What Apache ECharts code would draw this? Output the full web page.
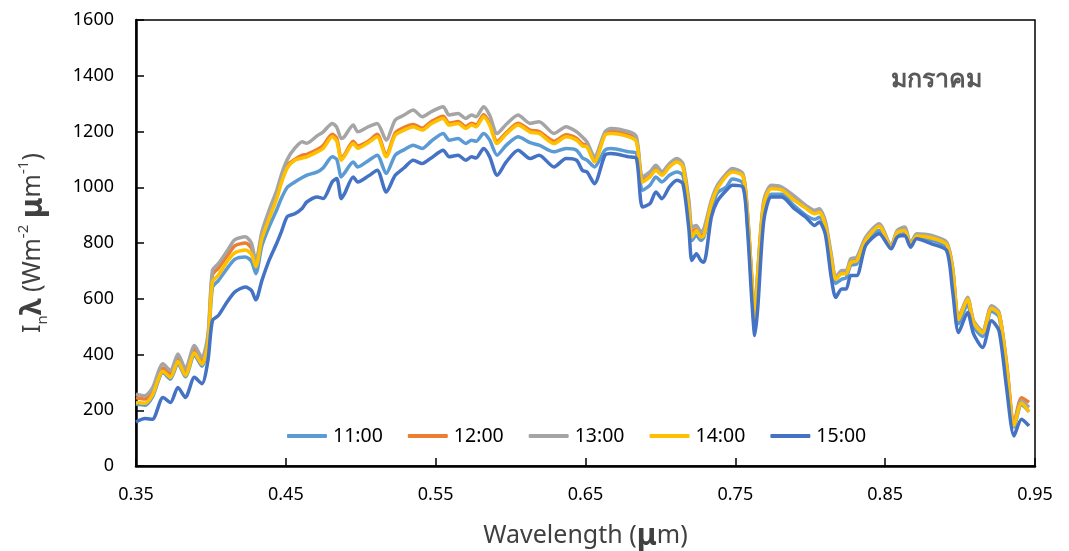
<!DOCTYPE html>
<html><head><meta charset="utf-8">
<script src="https://cdn.jsdelivr.net/npm/echarts@6/dist/echarts.min.js"></script>
<style>html,body{margin:0;padding:0;background:#fff}#c{width:1069px;height:551px}</style>
</head><body><div id="c"></div>
<script>
const wavelengths = [0.350,0.356,0.361,0.368,0.373,0.378,0.383,0.389,0.394,0.398,0.401,0.405,0.411,0.416,0.423,0.427,0.430,0.434,0.439,0.444,0.447,0.451,0.456,0.461,0.464,0.471,0.475,0.481,0.484,0.487,0.489,0.495,0.498,0.505,0.511,0.517,0.523,0.529,0.535,0.541,0.547,0.555,0.559,0.565,0.570,0.574,0.577,0.582,0.586,0.591,0.597,0.605,0.613,0.619,0.629,0.637,0.644,0.648,0.651,0.656,0.663,0.667,0.679,0.684,0.688,0.693,0.697,0.701,0.706,0.711,0.715,0.719,0.721,0.724,0.727,0.729,0.734,0.738,0.744,0.748,0.755,0.758,0.761,0.763,0.765,0.769,0.774,0.781,0.789,0.797,0.803,0.806,0.810,0.814,0.817,0.821,0.824,0.827,0.831,0.837,0.846,0.854,0.858,0.863,0.867,0.871,0.881,0.891,0.895,0.899,0.905,0.909,0.915,0.921,0.926,0.931,0.936,0.941,0.946];
const s1300 = [258,252,280,367,342,402,349,432,389,470,701,726,773,812,822,800,735,840,920,990,1045,1100,1140,1163,1158,1185,1199,1229,1215,1175,1181,1223,1199,1217,1229,1169,1241,1259,1277,1253,1271,1289,1259,1265,1247,1259,1253,1289,1259,1193,1225,1259,1229,1235,1193,1217,1199,1180,1163,1109,1199,1211,1199,1181,1037,1055,1079,1055,1085,1103,1085,953,857,863,839,851,953,1007,1049,1067,1049,917,677,533,701,953,1007,1001,970,935,917,923,880,760,677,701,701,743,749,821,869,791,845,857,797,833,827,803,713,533,605,521,485,575,551,366,150,234,210];
const s1200 = [245,240,268,352,330,388,338,418,378,455,685,710,755,790,800,782,725,830,905,975,1030,1080,1100,1115,1118,1135,1150,1190,1175,1105,1115,1165,1148,1165,1190,1115,1195,1215,1225,1212,1235,1255,1230,1236,1218,1230,1224,1260,1230,1165,1195,1230,1205,1200,1165,1188,1176,1155,1150,1095,1192,1200,1188,1170,1025,1042,1067,1048,1078,1096,1078,930,840,850,828,835,945,1000,1045,1060,1045,910,670,525,690,945,1000,995,962,928,910,915,870,750,675,695,695,735,740,815,862,788,840,850,795,828,822,800,710,530,600,518,480,570,548,370,155,245,228];
const s1400 = [228,225,255,340,318,375,325,405,365,440,660,685,735,765,775,760,715,815,890,960,1015,1070,1097,1105,1109,1127,1140,1181,1165,1097,1110,1157,1140,1160,1181,1109,1187,1205,1217,1205,1228,1247,1223,1229,1211,1223,1217,1253,1223,1157,1190,1223,1198,1193,1157,1181,1169,1148,1145,1091,1187,1193,1181,1163,1019,1037,1061,1043,1073,1091,1073,920,821,845,821,827,941,995,1040,1055,1040,905,665,520,690,940,995,990,955,925,905,910,865,745,670,690,690,730,735,810,860,785,838,845,792,825,818,795,705,525,598,515,478,565,545,360,145,225,194];
const s1100 = [222,218,248,335,312,368,320,398,358,430,640,665,710,742,750,735,690,790,860,920,960,1000,1019,1035,1043,1055,1070,1109,1100,1037,1050,1091,1073,1095,1115,1049,1115,1135,1151,1139,1165,1193,1169,1175,1157,1169,1165,1193,1170,1115,1150,1181,1160,1151,1127,1139,1133,1105,1097,1073,1133,1139,1127,1121,989,1007,1037,1019,1043,1055,1043,900,809,827,809,821,917,980,1001,1030,1015,880,640,490,640,910,975,975,935,900,885,892,860,730,655,670,675,720,725,800,845,780,825,835,790,820,810,785,690,510,580,500,465,555,535,340,140,220,195];
const s1500 = [158,170,168,246,228,282,246,318,295,378,522,540,590,625,642,630,596,665,740,800,840,895,905,925,947,965,960,1020,1031,959,975,1037,1019,1040,1061,983,1043,1070,1097,1085,1105,1133,1109,1115,1097,1109,1105,1139,1110,1043,1090,1133,1103,1115,1073,1103,1097,1060,1055,1013,1115,1121,1109,1103,929,941,983,959,1001,1025,1013,850,737,761,737,731,893,950,989,1007,1001,857,594,468,569,881,965,965,925,893,863,875,833,677,605,635,635,683,683,791,833,779,821,827,785,815,797,773,629,479,551,474,425,521,485,282,108,168,144];
const seriesNames = ['11:00','12:00','13:00','14:00','15:00'];
const seriesValues = [s1100, s1200, s1300, s1400, s1500];
const seriesColors = ['#5B9BD5','#ED7D31','#A5A5A5','#FFC000','#4472C4'];

const chart = echarts.init(document.getElementById('c'));
const FONT = '"Noto Sans", "DejaVu Sans", sans-serif';
chart.setOption({
  animation: false,
  backgroundColor: '#fff',
  textStyle: {fontFamily: FONT},
  grid: {left: 136, right: 34, top: 20, bottom: 85, show: true, borderColor: '#000', borderWidth: 1.5, outerBoundsMode: 'none', containLabel: false},
  title: {
    text: 'มกราคม', right: 82, top: 62,
    textStyle: {fontSize: 25, fontWeight: 'bold', color: '#595959', fontFamily: FONT}
  },
  legend: {
    data: seriesNames, left: 282, top: 421, itemWidth: 40, itemHeight: 4, itemGap: 25,
    icon: 'roundRect',
    textStyle: {fontSize: 19.5, color: '#000', fontFamily: FONT, padding: [0, 0, 0, 1]}
  },
  xAxis: {
    type: 'value', min: 0.35, max: 0.95, interval: 0.1,
    axisLine: {show: true, lineStyle: {color: '#000', width: 2.5}},
    axisTick: {show: true, inside: true, length: 8, lineStyle: {color: '#000', width: 1.5}},
    splitLine: {show: false},
    axisLabel: {fontSize: 18, color: '#000', margin: 20, formatter: v => v.toFixed(2)},
    name: '{a|Wavelength (}{mu|μ}{a|m)}', nameLocation: 'middle', nameGap: 55,
    nameTextStyle: {rich: {a: {fontSize: 25, color: '#404040', fontFamily: FONT}, mu: {fontSize: 30, fontWeight: 'bold', color: '#404040', fontFamily: FONT}}}
  },
  yAxis: {
    type: 'value', min: 0, max: 1600, interval: 200,
    axisLine: {show: true, lineStyle: {color: '#000', width: 2.5}},
    axisTick: {show: true, inside: true, length: 8, lineStyle: {color: '#000', width: 1.5}},
    splitLine: {show: false},
    axisLabel: {fontSize: 18, color: '#000', margin: 22, formatter: v => String(v)},
    name: '{a|I}{sub|n}{lam|λ}{a| (Wm}{sup|-2}{a| }{mu|μ}{a|m}{sup|-1}{a|)}',
    nameLocation: 'middle', nameGap: 86, nameRotate: 90,
    nameTextStyle: {rich: {
      a: {fontSize: 25, color: '#404040', lineHeight: 34, verticalAlign: 'middle', fontFamily: FONT},
      sub: {fontSize: 15, color: '#404040', lineHeight: 34, verticalAlign: 'bottom', fontFamily: FONT},
      sup: {fontSize: 15, color: '#404040', lineHeight: 34, verticalAlign: 'top', fontFamily: FONT},
      lam: {fontSize: 29, fontWeight: 'bold', color: '#404040', lineHeight: 34, verticalAlign: 'middle', fontFamily: FONT},
      mu: {fontSize: 31, fontWeight: 'bold', color: '#404040', lineHeight: 34, verticalAlign: 'middle', fontFamily: FONT}
    }}
  },
  series: seriesNames.map((n, i) => ({
    name: n, type: 'line', symbol: 'none', smooth: 0.25,
    color: seriesColors[i],
    lineStyle: {width: 3.5, color: seriesColors[i]},
    data: wavelengths.map((w, j) => [w, seriesValues[i][j]])
  }))
});
</script></body></html>
